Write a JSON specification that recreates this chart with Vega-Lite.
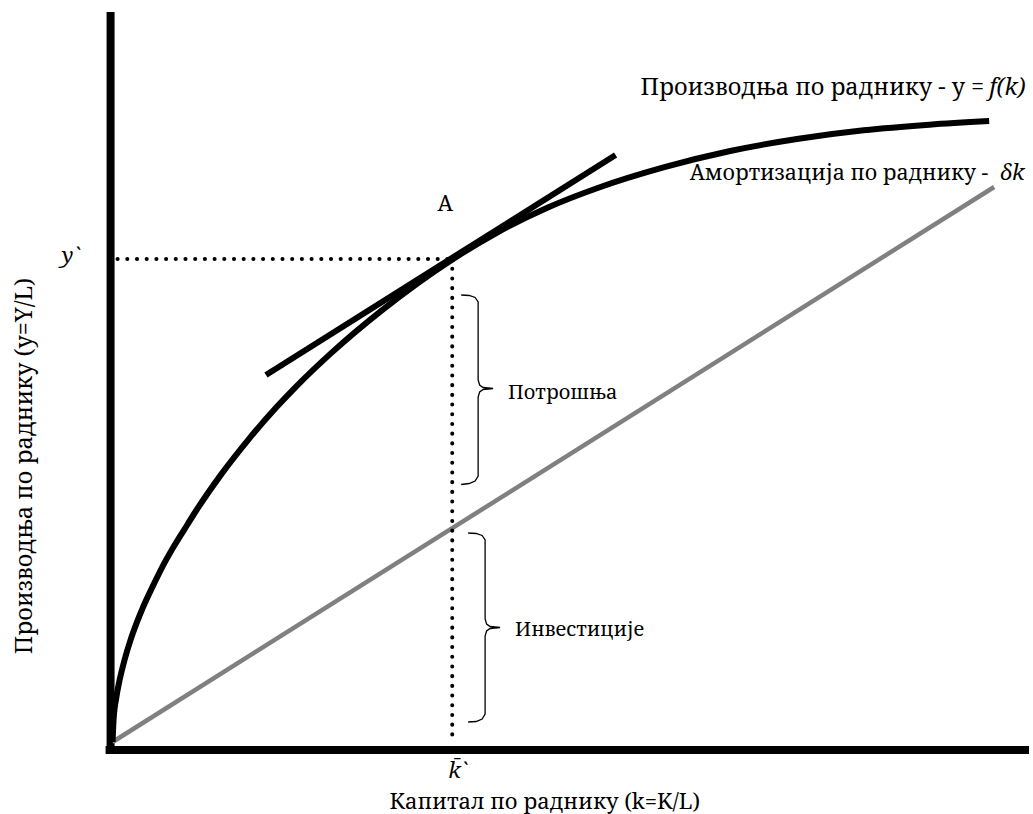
{
  "$schema": "https://vega.github.io/schema/vega-lite/v6.json",
  "autosize": {"type": "fit", "contains": "padding"},
  "width": 1033,
  "height": 814,
  "padding": 0,
  "background": "white",
  "config": {"view": {"stroke": null}, "text": {"font": "Noto Serif", "color": "black"}},
  "datasets": {
    "curve": [
      {"k": 0, "y": 0}, {"k": 0.1, "y": 2.2}, {"k": 0.37, "y": 4.4}, {"k": 0.7, "y": 6.16},
      {"k": 1.2, "y": 8.2}, {"k": 1.8, "y": 10.19}, {"k": 2.4, "y": 11.86}, {"k": 3.1, "y": 13.58},
      {"k": 4.0, "y": 15.5}, {"k": 5.0, "y": 17.52}, {"k": 6.0, "y": 19.3}, {"k": 7.2, "y": 21.24},
      {"k": 8.4, "y": 23.15}, {"k": 11.0, "y": 26.89}, {"k": 13.7, "y": 30.32}, {"k": 16.4, "y": 33.42},
      {"k": 18.4, "y": 35.52}, {"k": 22.0, "y": 38.94}, {"k": 27.0, "y": 43.14}, {"k": 34.0, "y": 48.18},
      {"k": 38.7, "y": 51.0}, {"k": 43.7, "y": 53.45}, {"k": 48.7, "y": 55.4}, {"k": 55.4, "y": 57.48},
      {"k": 62.0, "y": 59.1}, {"k": 68.7, "y": 60.3}, {"k": 75.4, "y": 61.17}, {"k": 82.0, "y": 61.73},
      {"k": 88.0, "y": 62.09}
    ],
    "depreciation": [{"k": 0, "y": 0}, {"k": 88.5, "y": 55.5}],
    "tangent": [{"k": 15.4, "y": 36.7}, {"k": 50.5, "y": 58.7}],
    "axes": [
      {"k": -0.2, "y": -1.2, "k2": -0.2, "y2": 73.0},
      {"k": -0.7, "y": -0.8, "k2": 92.0, "y2": -0.8}
    ],
    "dotted": [
      {"k": 0.5, "y": 48.3, "k2": 34.1, "y2": 48.3},
      {"k": 34.1, "y": 48.3, "k2": 34.1, "y2": 0.5}
    ],
    "braces": [
      {"b": "c", "i": 1, "k": 35.0, "y": 44.7}, {"b": "c", "i": 2, "k": 35.8, "y": 44.65},
      {"b": "c", "i": 3, "k": 36.4, "y": 44.45}, {"b": "c", "i": 4, "k": 36.7, "y": 44.0},
      {"b": "c", "i": 5, "k": 36.7, "y": 36.2}, {"b": "c", "i": 6, "k": 36.85, "y": 35.7},
      {"b": "c", "i": 7, "k": 37.2, "y": 35.45}, {"b": "c", "i": 8, "k": 38.2, "y": 35.35},
      {"b": "c", "i": 9, "k": 37.2, "y": 35.25}, {"b": "c", "i": 10, "k": 36.85, "y": 35.0},
      {"b": "c", "i": 11, "k": 36.7, "y": 34.5}, {"b": "c", "i": 12, "k": 36.7, "y": 26.6},
      {"b": "c", "i": 13, "k": 36.4, "y": 26.1}, {"b": "c", "i": 14, "k": 35.8, "y": 25.85},
      {"b": "c", "i": 15, "k": 35.0, "y": 25.75},
      {"b": "inv", "i": 1, "k": 35.7, "y": 20.9}, {"b": "inv", "i": 2, "k": 36.5, "y": 20.85},
      {"b": "inv", "i": 3, "k": 37.1, "y": 20.65}, {"b": "inv", "i": 4, "k": 37.4, "y": 20.2},
      {"b": "inv", "i": 5, "k": 37.4, "y": 12.3}, {"b": "inv", "i": 6, "k": 37.55, "y": 11.8},
      {"b": "inv", "i": 7, "k": 37.9, "y": 11.55}, {"b": "inv", "i": 8, "k": 38.9, "y": 11.45},
      {"b": "inv", "i": 9, "k": 37.9, "y": 11.35}, {"b": "inv", "i": 10, "k": 37.55, "y": 11.1},
      {"b": "inv", "i": 11, "k": 37.4, "y": 10.6}, {"b": "inv", "i": 12, "k": 37.4, "y": 2.8},
      {"b": "inv", "i": 13, "k": 37.1, "y": 2.3}, {"b": "inv", "i": 14, "k": 36.5, "y": 2.05},
      {"b": "inv", "i": 15, "k": 35.7, "y": 2.0}
    ],
    "textProd": [
      {"k": 87.5, "y": 64.7, "label": "Производња по раднику - y ="}
    ],
    "textProdIt": [
      {"k": 88.0, "y": 64.7, "label": "f(k)"}
    ],
    "textAm": [
      {"k": 87.9, "y": 56.2, "label": "Амортизација по раднику -"}
    ],
    "textAmIt": [
      {"k": 89.1, "y": 56.2, "label": "δk"}
    ],
    "textItalic": [
      {"k": -5.1, "y": 47.9, "label": "y`"},
      {"k": 33.7, "y": -3.6, "label": "k̄`"}
    ],
    "textBrace": [
      {"k": 39.7, "y": 34.9, "label": "Потрошња"},
      {"k": 40.4, "y": 11.2, "label": "Инвестиције"}
    ],
    "textA": [
      {"k": 33.4, "y": 53.1, "label": "A"}
    ],
    "textX": [
      {"k": 27.8, "y": -6.7, "label": "Капитал по раднику (k=K/L)"}
    ],
    "textRot": [
      {"k": -8.1, "y": 27.6, "label": "Производња по раднику (y=Y/L)"}
    ]
  },
  "encoding": {
    "x": {"field": "k", "type": "quantitative", "scale": {"domain": [-11.3, 92], "nice": false, "zero": false}, "axis": null},
    "y": {"field": "y", "type": "quantitative", "scale": {"domain": [-7.2, 74.2], "nice": false, "zero": false}, "axis": null}
  },
  "layer": [
    {
      "data": {"name": "axes"},
      "mark": {"type": "rule", "color": "black", "strokeWidth": 8, "strokeCap": "butt"},
      "encoding": {"x2": {"field": "k2"}, "y2": {"field": "y2"}}
    },
    {
      "data": {"name": "depreciation"},
      "mark": {"type": "line", "color": "#808080", "strokeWidth": 4.5},
      "encoding": {}
    },
    {
      "data": {"name": "curve"},
      "mark": {"type": "line", "color": "black", "strokeWidth": 6, "interpolate": "monotone"},
      "encoding": {}
    },
    {
      "data": {"name": "tangent"},
      "mark": {"type": "line", "color": "black", "strokeWidth": 6},
      "encoding": {}
    },
    {
      "data": {"name": "dotted"},
      "mark": {"type": "rule", "color": "black", "strokeWidth": 4, "strokeCap": "round", "strokeDash": [0.1, 9.6]},
      "encoding": {"x2": {"field": "k2"}, "y2": {"field": "y2"}}
    },
    {
      "data": {"name": "braces"},
      "mark": {"type": "line", "color": "black", "strokeWidth": 1.3},
      "encoding": {"detail": {"field": "b"}, "order": {"field": "i", "type": "quantitative"}}
    },
    {
      "data": {"name": "textProd"},
      "mark": {"type": "text", "fontSize": 23.5, "align": "right", "baseline": "alphabetic"},
      "encoding": {"text": {"field": "label"}}
    },
    {
      "data": {"name": "textProdIt"},
      "mark": {"type": "text", "fontSize": 23, "fontStyle": "italic", "align": "left", "baseline": "alphabetic"},
      "encoding": {"text": {"field": "label"}}
    },
    {
      "data": {"name": "textAm"},
      "mark": {"type": "text", "fontSize": 21.5, "align": "right", "baseline": "alphabetic"},
      "encoding": {"text": {"field": "label"}}
    },
    {
      "data": {"name": "textAmIt"},
      "mark": {"type": "text", "fontSize": 22, "fontStyle": "italic", "align": "left", "baseline": "alphabetic"},
      "encoding": {"text": {"field": "label"}}
    },
    {
      "data": {"name": "textItalic"},
      "mark": {"type": "text", "fontSize": 22, "fontStyle": "italic", "align": "left", "baseline": "alphabetic"},
      "encoding": {"text": {"field": "label"}}
    },
    {
      "data": {"name": "textBrace"},
      "mark": {"type": "text", "fontSize": 20, "align": "left", "baseline": "middle"},
      "encoding": {"text": {"field": "label"}}
    },
    {
      "data": {"name": "textA"},
      "mark": {"type": "text", "fontSize": 22, "align": "center", "baseline": "alphabetic"},
      "encoding": {"text": {"field": "label"}}
    },
    {
      "data": {"name": "textX"},
      "mark": {"type": "text", "fontSize": 22, "align": "left", "baseline": "alphabetic"},
      "encoding": {"text": {"field": "label"}}
    },
    {
      "data": {"name": "textRot"},
      "mark": {"type": "text", "fontSize": 23.5, "align": "center", "baseline": "alphabetic", "angle": 270},
      "encoding": {"text": {"field": "label"}}
    }
  ]
}
